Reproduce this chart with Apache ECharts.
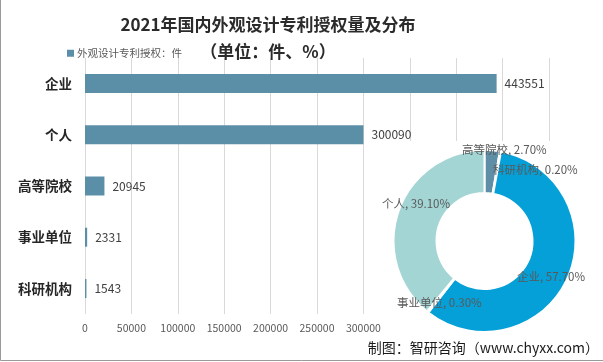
<!DOCTYPE html>
<html>
<head>
<meta charset="utf-8">
<script src="https://cdn.jsdelivr.net/npm/echarts@6/dist/echarts.min.js"></script>
<style>
html,body{margin:0;padding:0;background:#fff;}
#c{width:603px;height:362px;}
</style>
</head>
<body>
<div id="c"></div>
<script>
// ---- data ----
const titleText = '2021年国内外观设计专利授权量及分布';
const subTitleText = '（单位：件、%）';
const seriesName = '外观设计专利授权：件';
const categories = ['企业', '个人', '高等院校', '事业单位', '科研机构'];
const barValues = [443551, 300090, 20945, 2331, 1543];
const pieNames = ['高等院校', '科研机构', '企业', '事业单位', '个人'];
const pieValues = [2.7, 0.2, 57.7, 0.3, 39.1];
const pieLabels = ['2.70%', '0.20%', '57.70%', '0.30%', '39.10%'];
const footerText = '制图：智研咨询（www.chyxx.com）';

// ---- styles ----
const CJK = '"Noto Sans CJK SC", "Noto Sans", sans-serif';
const pieColors = {'高等院校':'#5f8fa6','科研机构':'#a5a5a5','企业':'#05a0d8','事业单位':'#9ab8c6','个人':'#a3d5d4'};
const pieLabelPos = {
  '高等院校':[462,150],
  '科研机构':[493,170],
  '企业':[517,277],
  '事业单位':[397,303],
  '个人':[382,204]
};

const chart = echarts.init(document.getElementById('c'), null, {renderer:'canvas'});
chart.setOption({
  animation:false,
  backgroundColor:'#fff',
  title:{
    text: titleText + '\n' + subTitleText,
    left: 263, top: 6, textAlign:'center',
    textStyle:{fontFamily:CJK, fontSize:17, fontWeight:'bold', color:'#2b2b2b', lineHeight:27}
  },
  legend:{
    left:62, top:43,
    data:[seriesName],
    itemWidth:7, itemHeight:7, itemGap:2, icon:'rect',
    textStyle:{fontFamily:CJK, fontSize:10.5, color:'#595959', padding:[0,0,0,-2]}
  },
  grid:{left:85, right:54, top:58, bottom:48, containLabel:false},
  xAxis:{
    type:'value', min:0, max:500000, interval:50000,
    axisLine:{show:false}, axisTick:{show:false},
    splitLine:{lineStyle:{color:'#d9d9d9', width:1}},
    axisLabel:{fontFamily:CJK, fontSize:10.5, color:'#595959', margin:9, formatter:function(v){return String(v);}}
  },
  yAxis:{
    type:'category', data:categories, inverse:true,
    axisLine:{show:false}, axisTick:{show:false},
    axisLabel:{fontFamily:CJK, fontSize:13.5, fontWeight:'bold', color:'#262626', margin:13}
  },
  graphic:[
    {type:'rect', z:1, shape:{x:386, y:141, width:214, height:205}, style:{fill:'#fff'}},
    {type:'polyline', z:10, shape:{points:[[0.5,0],[0.5,360.5],[603,360.5]]}, style:{stroke:'#9a9a9a', lineWidth:1, fill:null}},
    {type:'text', z:10, right:4, top:341, style:{text:footerText, font:'14px ' + CJK, fill:'#1a1a1a'}}
  ],
  series:[
    {
      name: seriesName, type:'bar', data: barValues, barWidth:19, z:2,
      itemStyle:{color:'#5b8fa8'},
      label:{show:true, position:'right', distance:8, fontFamily:CJK, fontSize:12, color:'#404040'}
    },
    {
      type:'pie', z:3, center:[484.5,241], radius:[48,91], startAngle:90, clockwise:true,
      avoidLabelOverlap:false, minAngle:0,
      data: pieNames.map((n,i)=>({name:n, value:pieValues[i], itemStyle:{color:pieColors[n]},
        label:{formatter: n + ', ' + pieLabels[i]}})),
      itemStyle:{borderColor:'#fff', borderWidth:2},
      label:{show:true, position:'outside', fontFamily:CJK, fontSize:11.5, color:'#595959'},
      labelLine:{show:false},
      labelLayout:function(p){
        const pos = pieLabelPos[pieNames[p.dataIndex]];
        return {x:pos[0], y:pos[1], align:'left', verticalAlign:'middle'};
      }
    }
  ]
});
</script>
</body>
</html>
